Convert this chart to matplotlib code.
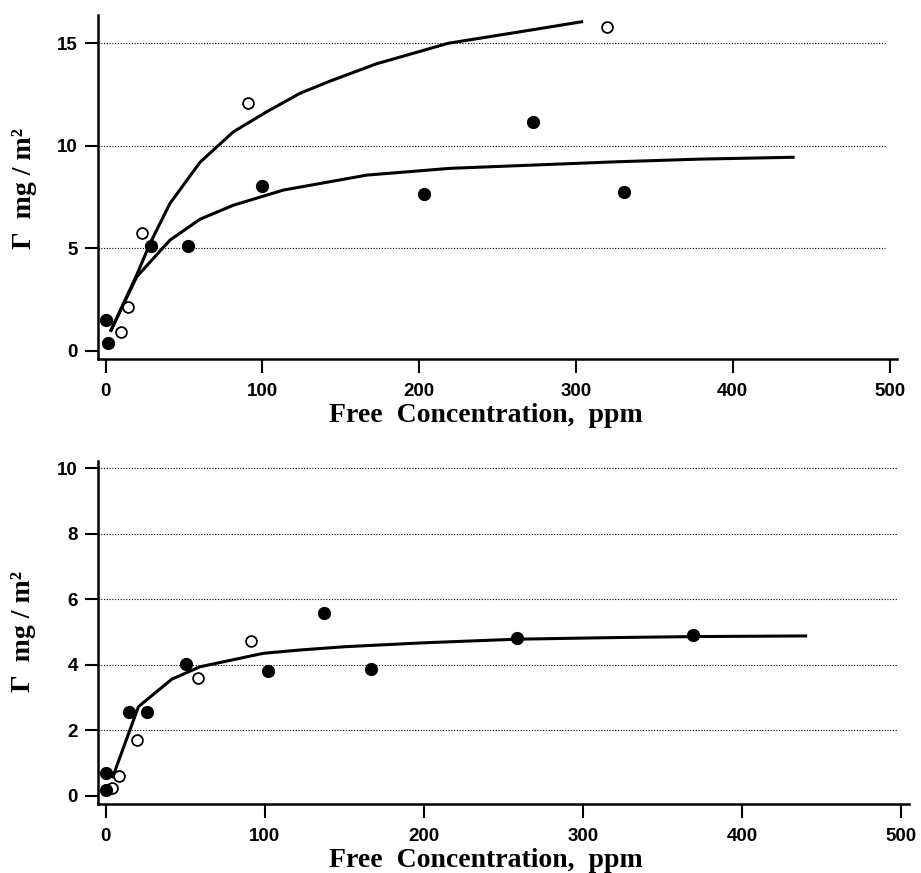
import matplotlib.pyplot as plt

# top panel: open and filled symbols with their fitted curves
top_open_x = [9.7, 14.5, 23.1, 91, 320]
top_open_y = [0.91, 2.15, 5.73, 12.07, 15.8]
top_fill_x = [0.3, 1.4, 29, 52.8, 99.6, 203, 272.8, 330.7]
top_fill_y = [1.5, 0.36, 5.12, 5.12, 8.03, 7.64, 11.16, 7.73]

top_fit_open_x = [3.5, 19.9, 28.4, 41.1, 60.3, 81.5, 102.8, 124, 143, 172.8, 218.5, 270.7, 303.6]
top_fit_open_y = [1.0, 3.7, 5.24, 7.19, 9.2, 10.68, 11.66, 12.56, 13.15, 14.0, 15.0, 15.64, 16.05]
top_fit_fill_x = [3.5, 19.9, 41.1, 60.3, 81.5, 113.4, 166.6, 219.7, 272.8, 326, 379, 438.5]
top_fit_fill_y = [1.0, 3.61, 5.4, 6.42, 7.1, 7.84, 8.57, 8.9, 9.06, 9.22, 9.35, 9.44]

# bottom panel
bot_open_x = [4.1, 8.3, 19.6, 58.3, 91.5]
bot_open_y = [0.24, 0.6, 1.7, 3.6, 4.71]
bot_fill_x = [0.1, 0.1, 14.8, 26.3, 50.4, 102.3, 137.3, 167, 258.3, 369]
bot_fill_y = [0.71, 0.17, 2.57, 2.56, 4.01, 3.82, 5.57, 3.88, 4.82, 4.9]

bot_fit_x = [4.5, 20.6, 41.6, 59.4, 99.2, 122, 150, 200, 258, 320, 369, 440]
bot_fit_y = [0.58, 2.72, 3.56, 3.94, 4.35, 4.45, 4.55, 4.67, 4.78, 4.83, 4.86, 4.88]

x_ticks = [0, 100, 200, 300, 400, 500]
top_y_ticks = [0, 5, 10, 15]
bot_y_ticks = [0, 2, 4, 6, 8, 10]

xlabel = "Free  Concentration,  ppm"
ylabel = "Γ  mg / m²"

label_font = dict(family="Liberation Serif", weight="bold", size=20)

fig = plt.figure(figsize=(9.21, 8.73), dpi=100)
ax1 = fig.add_axes([0.1064, 0.5888, 0.868, 0.3940])
ax2 = fig.add_axes([0.1064, 0.0790, 0.8806, 0.3930])


def style(ax, yticks, ylim, xlab_pos, ylab_y):
    for s in ["top", "right"]:
        ax.spines[s].set_visible(False)
    for s in ["left", "bottom"]:
        ax.spines[s].set_linewidth(1.8)
    ax.set_xlim(-4.8, 505)
    ax.set_ylim(*ylim)
    ax.set_xticks(x_ticks)
    ax.set_yticks(yticks)
    ax.tick_params(axis="x", direction="out", length=10, width=1.5, pad=7)
    ax.tick_params(axis="y", direction="out", length=9.5, width=1.5, pad=5)
    for lab in ax.get_xticklabels() + ax.get_yticklabels():
        lab.set_fontfamily("Liberation Sans")
        lab.set_fontweight("bold")
        lab.set_fontsize(13.5)
    for v in yticks:
        if v != 0:
            ax.axhline(v, xmax=0.985, color="black", linestyle=(0, (1, 1.5)),
                       linewidth=0.8, zorder=0)
    ax.set_xlabel(xlabel, fontdict=label_font)
    ax.xaxis.set_label_coords(*xlab_pos)
    ax.set_ylabel(ylabel, fontdict=label_font)
    ax.yaxis.set_label_coords(-0.076, ylab_y)


style(ax1, top_y_ticks, (-0.40, 16.38), (0.485, -0.128), 0.496)
style(ax2, bot_y_ticks, (-0.25, 10.22), (0.478, -0.128), 0.502)

ax1.plot(top_fit_open_x, top_fit_open_y, color="black", linewidth=2.2)
ax1.plot(top_fit_fill_x, top_fit_fill_y, color="black", linewidth=2.2)
ax1.plot(top_open_x, top_open_y, "o", color="black", markerfacecolor="white",
         markersize=7.8, markeredgewidth=1.3, zorder=3)
ax1.plot(top_fill_x, top_fill_y, "o", color="black", markersize=8.5, zorder=3)

ax2.plot(bot_fit_x, bot_fit_y, color="black", linewidth=2.2)
ax2.plot(bot_open_x, bot_open_y, "o", color="black", markerfacecolor="white",
         markersize=7.8, markeredgewidth=1.3, zorder=3)
ax2.plot(bot_fill_x, bot_fill_y, "o", color="black", markersize=8.5, zorder=3)

fig.savefig("out.png", dpi=100)
